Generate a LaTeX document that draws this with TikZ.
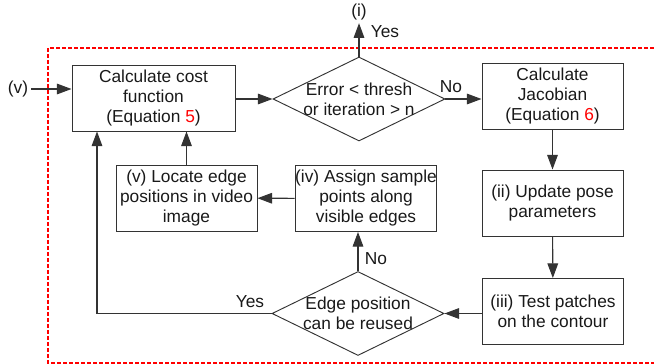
\documentclass[tikz,border=0pt]{standalone}
\usepackage{fontspec}
\setmainfont{Liberation Sans}
\usetikzlibrary{shapes.geometric,arrows.meta}
\tikzset{
  txt/.style={font=\fontsize{13}{15}\selectfont, text=black!90},
  box/.style={txt, draw, rectangle, align=center, inner sep=0pt,
    minimum width=105.75pt, minimum height=49.5pt},
  test/.style={txt, draw, diamond, aspect=2.05, align=center, inner sep=-6pt,
    minimum width=129pt, minimum height=63pt},
  flow/.style={-{Triangle[length=11pt,width=8pt]}, line width=0.8pt},
  tag/.style={txt, inner sep=2pt},
  frame/.style={draw=red, line width=1.5pt, dash pattern=on 3pt off 1.5pt}
}
\begin{document}
\begin{tikzpicture}[x=0.75pt,y=-0.75pt,line width=0.7pt,draw=black!80]
\clip (0,0) rectangle (654,364);
\draw[frame] (48,48) rectangle (660,363);

\node[box, minimum width=122.25pt] (cost) at (153.5,98) {Calculate cost\\function\\(Equation \textcolor{red}{5})};
\node[test] (stop) at (359,99) {Error < thresh\\or iteration > n};
\node[box] (jac) at (552.5,96) {Calculate\\Jacobian\\(Equation \textcolor{red}{6})};
\node[box] (pose) at (552.5,203) {(ii) Update pose\\parameters};
\node[box] (patch) at (553,311.5) {(iii) Test patches\\on the contour};
\node[test] (reuse) at (358,313.5) {Edge position\\can be reused};
\node[box] (assign) at (366,198.5) {(iv) Assign sample\\points along\\visible edges};
\node[box] (locate) at (186.5,198) {(v) Locate edge\\positions in video\\image};

\node[tag] (vin) at (18,89) {(v)};
\node[tag] (iout) at (359,12) {(i)};
\coordinate (yesturn) at (97,313.5);

\draw[flow] (vin.east) -- (vin.east -| cost.west);
\draw[flow] (cost.east |- stop.west) -- (stop.west);
\draw[flow] (stop.north) -- (iout.south);
\draw[flow] (stop.east) -- (stop.east -| jac.west);
\draw[flow] (jac) -- (pose);
\draw[flow] (pose) -- (patch);
\draw[flow] (patch.west |- reuse.east) -- (reuse.east);
\draw[flow] (reuse.north) -- (reuse.north |- assign.south);
\draw[flow] (assign) -- (locate);
\draw[flow] (locate.north) -- (locate.north |- cost.south);
\draw[flow] (reuse.west) -- (yesturn) -- (yesturn |- cost.south);

\node[tag] (yes1) at (385,32) {Yes};
\node[tag] (no1) at (451,87) {No};
\node[tag] (no2) at (376,259) {No};
\node[tag] (yes2) at (250,302) {Yes};
\end{tikzpicture}
\end{document}
